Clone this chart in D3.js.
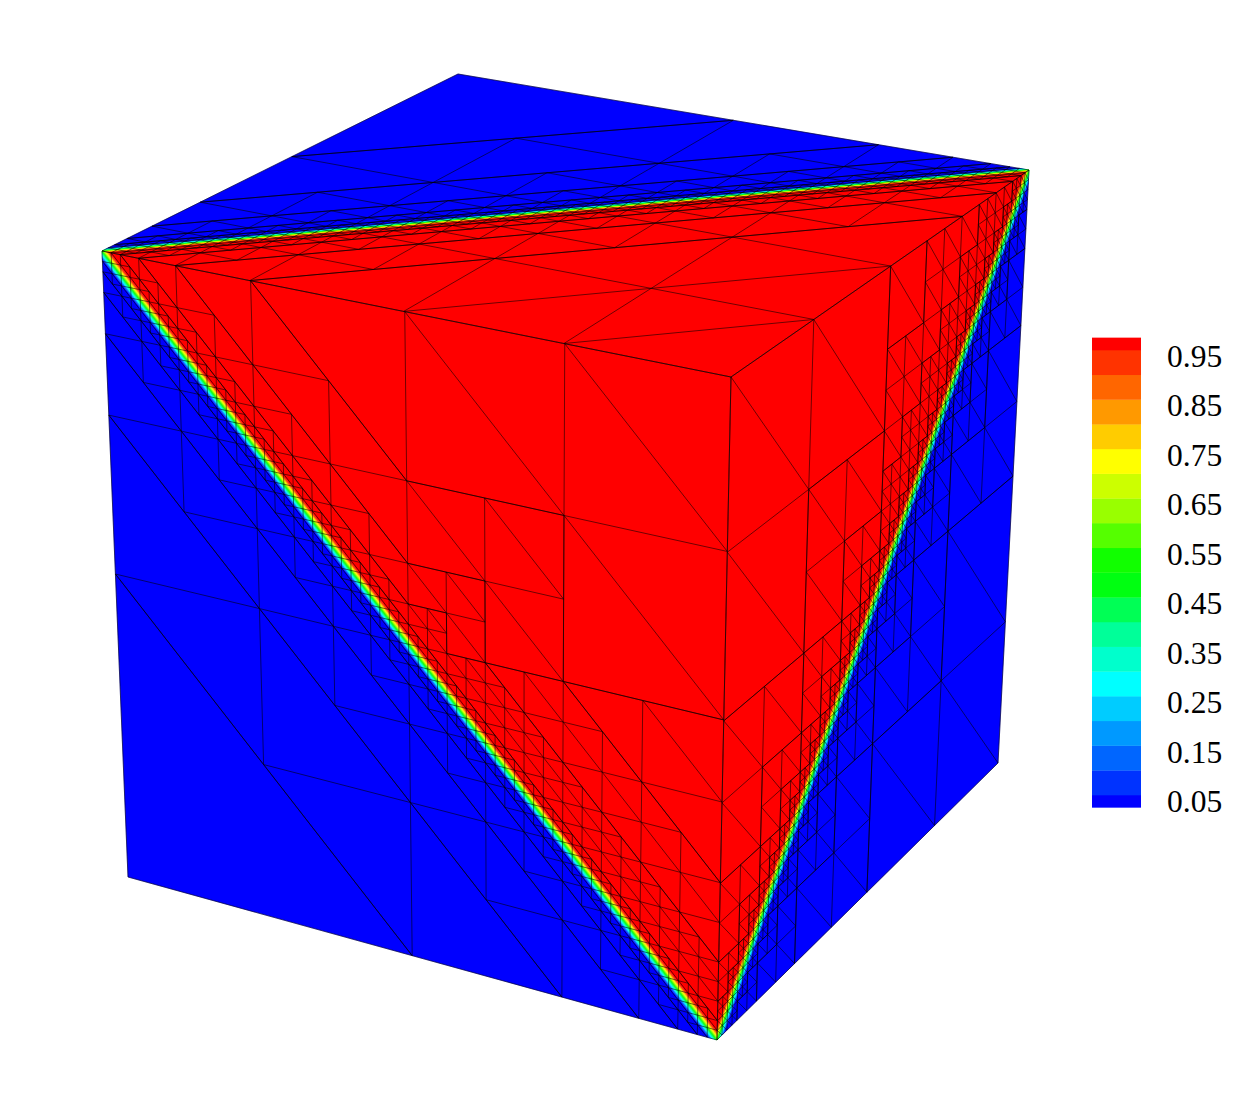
<!DOCTYPE html>
<html>
<head>
<meta charset="utf-8">
<script src="https://cdn.jsdelivr.net/npm/d3@7/dist/d3.min.js"></script>
<style>
html,body{margin:0;padding:0;background:#fff}
svg{display:block}
</style>
</head>
<body>
<svg id="chart" width="1237" height="1100"></svg>
<script>
// contour levels and their flood colours (bottom to top)
const levelThresholds = [0.05,0.1,0.15,0.2,0.25,0.3,0.35,0.4,0.45,0.5,0.55,0.6,0.65,0.7,0.75,0.8,0.85,0.9,0.95];
const levelColours = ["#0000ff","#0033ff","#0066ff","#0099ff","#00ccff","#00ffff","#00ffcc","#00ff99","#00ff55","#00ff11",
                      "#11ff00","#55ff00","#99ff00","#ccff00","#ffff00","#ffcc00","#ff9900","#ff6600","#ff3300","#ff0000"];
const tickValues = [0.05,0.15,0.25,0.35,0.45,0.55,0.65,0.75,0.85,0.95];
// end caps of the colour bar
const barEnds = [0.025,0.975];
// finest mesh cell, as a fraction of a cube edge
const finestCell = 1/64;
// smallest triangle that takes the extra layer of refinement on the upper side
const smallestExtra = 1/16;
// width of the front between phi=0 and phi=1, as a fraction of a cube edge
const frontWidthTop = 1/34, frontWidthLeft = 1/36, frontWidthRight = 1/22;

// projected cube corners (view frame)
const cornerL=[102,251], cornerR=[1029,170], cornerT=[458,74], cornerF=[731,377],
      cornerB=[717,1040], cornerBL=[128,877], cornerBR=[998,763];

const svg = d3.select("#chart");
const colour = d3.scaleThreshold().domain(levelThresholds).range(levelColours);
const legendY = d3.scaleLinear().domain([0.05,0.95]).range([795,350]);

function homography(p00,p10,p11,p01){
  const [x0,y0]=p00,[x1,y1]=p10,[x2,y2]=p11,[x3,y3]=p01;
  const dx1=x1-x2,dx2=x3-x2,dx3=x0-x1+x2-x3,dy1=y1-y2,dy2=y3-y2,dy3=y0-y1+y2-y3;
  const den=dx1*dy2-dx2*dy1;
  const g=(dx3*dy2-dx2*dy3)/den,h=(dx1*dy3-dx3*dy1)/den;
  const a=x1-x0+g*x1,b=x3-x0+h*x3,c=x0,d=y1-y0+g*y1,e=y3-y0+h*y3,f=y0;
  return ([u,v])=>{const w=g*u+h*v+1;return [(a*u+b*v+c)/w,(d*u+e*v+f)/w];};
}

// Each face: mesh coordinates (p,q) on the unit square; signed distance to the front, red side positive.
const EPS=1e-9;
const faceTop={
  map:homography(cornerL,cornerF,cornerR,cornerT),
  dist:([p,q])=>p-q, width:frontWidthTop,
  extra:(t,s,lo)=>isChainTriangle(t,s)&&s>=0.5
};
const faceLeft={
  map:homography(cornerL,cornerF,cornerB,cornerBL),
  dist:([p,q])=>p-q, width:frontWidthLeft,
  extra:(t,s,lo)=>s>=smallestExtra-EPS&&(isChainTriangle(t,s)||(lo>EPS&&lo<=s+EPS&&d3.min(t,c=>c[1])>=0.5-EPS))
};
const faceRight={
  map:homography(cornerF,cornerR,cornerBR,cornerB),
  dist:([p,q])=>1-p-q, width:frontWidthRight,
  extra:(t,s,lo)=>s>=smallestExtra-EPS&&lo>EPS&&lo<=s+EPS&&d3.min(t,c=>c[0])>=0.5-EPS
};
const faces=[faceTop,faceLeft,faceRight];

function isChainTriangle(t,s){
  const minP=d3.min(t,c=>c[0]),maxP=d3.max(t,c=>c[0]),minQ=d3.min(t,c=>c[1]),maxQ=d3.max(t,c=>c[1]);
  return Math.abs(minP-0.5)<EPS&&Math.abs(maxQ-0.5)<EPS&&Math.abs(maxP-minP-s)<EPS&&Math.abs(maxQ-minQ-s)<EPS
    &&t.some(c=>Math.abs(c[0]-maxP)<EPS&&Math.abs(c[1]-minQ)<EPS);
}

function meshEdges(face){
  const edges=new Map();
  const addEdge=(a,b)=>{
    if(Math.abs(face.dist(a))<EPS&&Math.abs(face.dist(b))<EPS) return;
    const ka=a.join(","),kb=b.join(",");
    const k=ka<kb?ka+"|"+kb:kb+"|"+ka;
    if(!edges.has(k)) edges.set(k,[a,b]);
  };
  const walk=(t,s)=>{
    const ds=t.map(face.dist),lo=d3.min(ds),hi=d3.max(ds);
    const touches=lo<=EPS&&hi>=-EPS;
    if(s>finestCell+EPS&&(touches||face.extra(t,s,lo))){
      const mid=(a,b)=>[(a[0]+b[0])/2,(a[1]+b[1])/2];
      const [A,B,C]=t,ab=mid(A,B),bc=mid(B,C),ca=mid(C,A);
      walk([A,ab,ca],s/2);walk([ab,B,bc],s/2);walk([ca,bc,C],s/2);walk([ab,bc,ca],s/2);
    }else{
      addEdge(t[0],t[1]);addEdge(t[1],t[2]);addEdge(t[2],t[0]);
    }
  };
  walk([[0,0],[1,0],[1,1]],1);
  walk([[0,0],[1,1],[0,1]],1);
  return [...edges.values()];
}

function clipHalf(poly,fn){
  const out=[];
  poly.forEach((a,i)=>{
    const b=poly[(i+1)%poly.length],fa=fn(a),fb=fn(b);
    if(fa>=0) out.push(a);
    if((fa>=0)!==(fb>=0)){const r=fa/(fa-fb);out.push([a[0]+(b[0]-a[0])*r,a[1]+(b[1]-a[1])*r]);}
  });
  return out;
}

const polyLine=d3.line().curve(d3.curveLinearClosed);
const gFill=svg.append("g");
const gMesh=svg.append("g");
faces.forEach(face=>{
  const phiToDist=t=>(t-0.5)*face.width;
  levelColours.forEach((col,i)=>{
    let poly=[[0,0],[1,0],[1,1],[0,1]];
    if(i>0){const lo=phiToDist(levelThresholds[i-1]);poly=clipHalf(poly,c=>face.dist(c)-lo);}
    if(i<levelThresholds.length){const hi=phiToDist(levelThresholds[i]);poly=clipHalf(poly,c=>hi-face.dist(c));}
    if(poly.length<3) return;
    gFill.append("path").attr("d",polyLine(poly.map(face.map)))
      .attr("fill",colour(i===0?0:levelThresholds[i-1]))
      .attr("stroke",colour(i===0?0:levelThresholds[i-1])).attr("stroke-width",0.4);
  });
  const edges=meshEdges(face);
  gMesh.append("path")
    .attr("d",edges.map(([a,b])=>{const A=face.map(a),B=face.map(b);return "M"+A[0].toFixed(2)+","+A[1].toFixed(2)+"L"+B[0].toFixed(2)+","+B[1].toFixed(2);}).join(""))
    .attr("fill","none").attr("stroke","#000").attr("stroke-width",0.75).attr("stroke-opacity",0.75);
});

// colour bar
const barX=1092, barW=49;
const barEdges=[barEnds[0],...levelThresholds,barEnds[1]];
svg.append("g").selectAll("rect").data(levelColours).join("rect")
  .attr("x",barX).attr("width",barW)
  .attr("y",(d,i)=>legendY(barEdges[i+1]))
  .attr("height",(d,i)=>legendY(barEdges[i])-legendY(barEdges[i+1])+0.3)
  .attr("fill",d=>d);
const axis=d3.axisRight(legendY).tickValues(tickValues).tickSize(0).tickPadding(26).tickFormat(d3.format(".2f"));
const gAxis=svg.append("g").attr("transform",`translate(${barX+barW},0)`).call(axis);
gAxis.select(".domain").remove();
gAxis.selectAll("text").attr("dy","16.5px")
  .style("font-family","'Liberation Serif','Times New Roman',serif").style("font-size","31.5px").attr("fill","#000");
</script>
</body>
</html>
